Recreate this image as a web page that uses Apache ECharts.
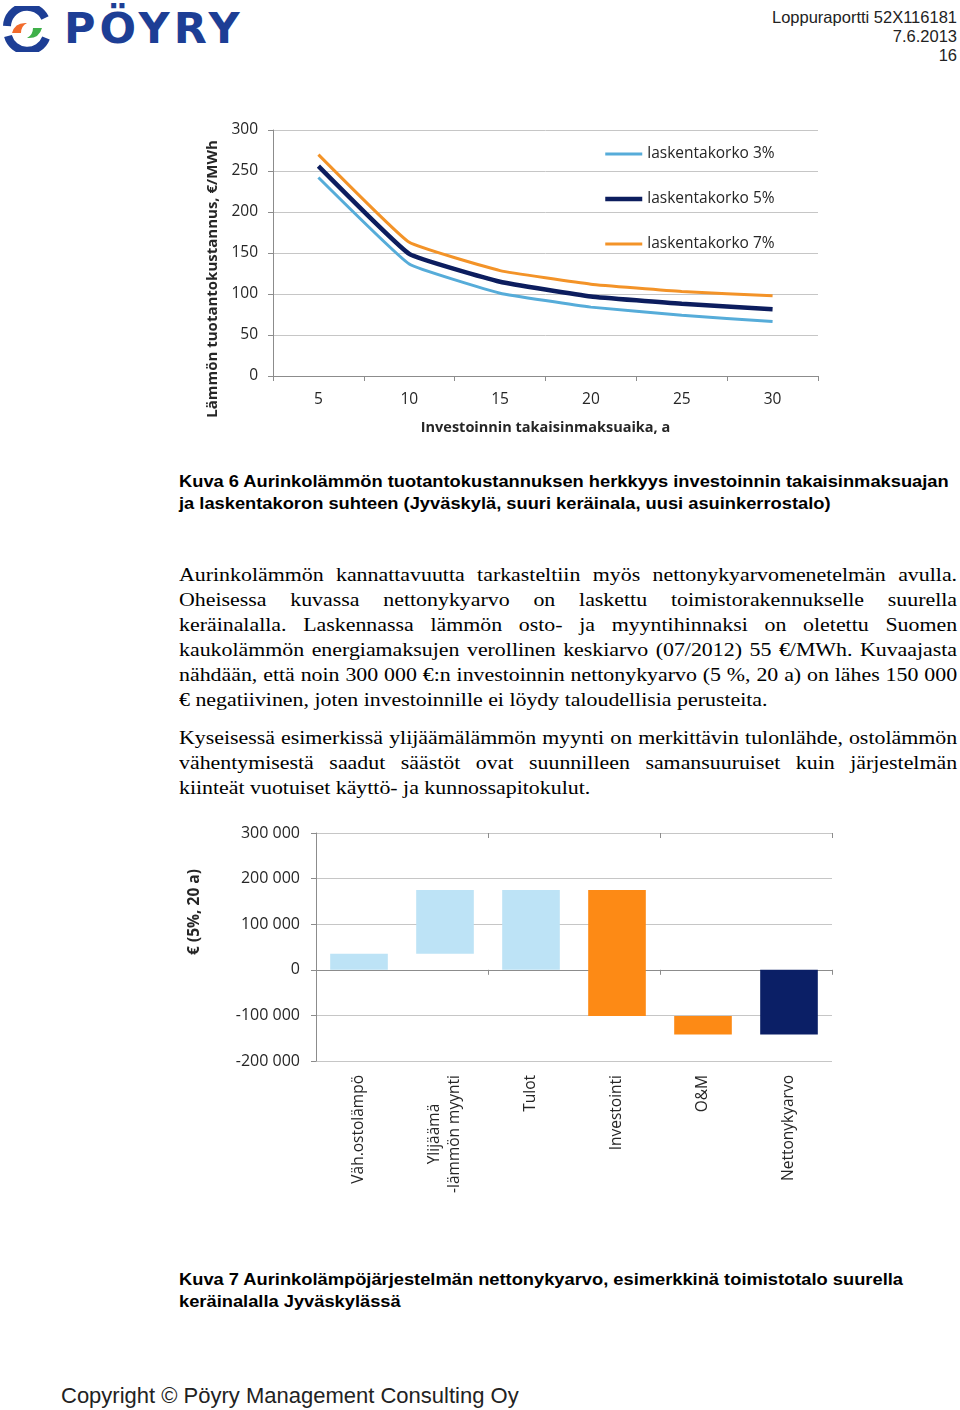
<!DOCTYPE html>
<html>
<head>
<meta charset="utf-8">
<script src="https://cdn.jsdelivr.net/npm/echarts@6/dist/echarts.min.js"></script>
<style>
  html, body { margin: 0; padding: 0; background: #fff; }
  #page { position: relative; width: 960px; height: 1410px; overflow: hidden; background: #fff; }
  .abs { position: absolute; }
  .hdr { right: 3px; top: 8px; text-align: right; font-family: "Liberation Sans", Arial, sans-serif; font-size: 16.5px; line-height: 19px; color: #222; }
  .logo-text { left: 64px; top: 3px; font-family: "DejaVu Sans", sans-serif; font-weight: bold; font-size: 43px; line-height: 50px; color: #1d3e95; letter-spacing: 4px; }
  .cap { left: 179px; font-family: "Liberation Sans", Arial, sans-serif; font-weight: bold; font-size: 16px; line-height: 21.5px; color: #000; white-space: nowrap; transform: scaleX(1.143); transform-origin: 0 0; }
  .body { left: 179px; width: 676px; font-family: "Liberation Serif", "Times New Roman", serif; font-size: 19px; color: #000; transform: scaleX(1.151); transform-origin: 0 0; }
  .ln { height: 25px; line-height: 25px; text-align: justify; text-align-last: justify; }
  .ln.last { text-align: left; text-align-last: left; }
  .foot { left: 61px; top: 1382px; font-family: "Liberation Sans", Arial, sans-serif; font-size: 22px; line-height: 28px; color: #222; }
</style>
</head>
<body>
<div id="page">
  <svg class="abs" style="left:3px;top:6px" width="48" height="46" viewBox="0 0 48 46">
    <path d="M42 12 A20 20 0 0 0 4 20" fill="none" stroke="#1d3e95" stroke-width="8"/>
    <path d="M5 30 A20 20 0 0 0 43 32" fill="none" stroke="#1d3e95" stroke-width="8"/>
    <path d="M9 27 Q12 16 24 17 Q18 20 18 27 Z" fill="#f26b2c"/>
    <path d="M39 22 Q36 33 24 32 Q30 29 30 22 Z" fill="#3fb04a"/>
  </svg>
  <div class="abs logo-text">PÖYRY</div>
  <div class="abs hdr">Loppuraportti 52X116181<br>7.6.2013<br>16</div>

  <div id="chart1" class="abs" style="left:0;top:100px;width:960px;height:360px"></div>

  <div class="abs cap" style="top:471px">Kuva 6 Aurinkolämmön tuotantokustannuksen herkkyys investoinnin takaisinmaksuajan<br>ja laskentakoron suhteen (Jyväskylä, suuri keräinala, uusi asuinkerrostalo)</div>

  <div class="abs body" style="top:562px">
    <div class="ln">Aurinkolämmön kannattavuutta tarkasteltiin myös nettonykyarvomenetelmän avulla.</div>
    <div class="ln">Oheisessa kuvassa nettonykyarvo on laskettu toimistorakennukselle suurella</div>
    <div class="ln">keräinalalla. Laskennassa lämmön osto- ja myyntihinnaksi on oletettu Suomen</div>
    <div class="ln">kaukolämmön energiamaksujen verollinen keskiarvo (07/2012) 55 €/MWh. Kuvaajasta</div>
    <div class="ln">nähdään, että noin 300 000 €:n investoinnin nettonykyarvo (5 %, 20 a) on lähes 150 000</div>
    <div class="ln last">€ negatiivinen, joten investoinnille ei löydy taloudellisia perusteita.</div>
  </div>
  <div class="abs body" style="top:725px">
    <div class="ln">Kyseisessä esimerkissä ylijäämälämmön myynti on merkittävin tulonlähde, ostolämmön</div>
    <div class="ln">vähentymisestä saadut säästöt ovat suunnilleen samansuuruiset kuin järjestelmän</div>
    <div class="ln last">kiinteät vuotuiset käyttö- ja kunnossapitokulut.</div>
  </div>

  <div id="chart2" class="abs" style="left:0;top:810px;width:960px;height:420px"></div>

  <div class="abs cap" style="top:1269px">Kuva 7 Aurinkolämpöjärjestelmän nettonykyarvo, esimerkkinä toimistotalo suurella<br>keräinalalla Jyväskylässä</div>

  <div class="abs foot">Copyright © Pöyry Management Consulting Oy</div>
</div>

<script>
// ---------- Chart 1 data ----------
var paybackYears = ['5', '10', '15', '20', '25', '30'];
var korko3 = [242, 136.5, 101, 84, 74, 66.5];
var korko5 = [256, 149, 115, 97, 88, 81.5];
var korko7 = [270, 163, 128.5, 112, 103, 98];
var seriesNames = ['laskentakorko 3%', 'laskentakorko 5%', 'laskentakorko 7%'];
var chart1YName = 'Lämmön tuotantokustannus, €/MWh';
var chart1XName = 'Investoinnin takaisinmaksuaika, a';

// ---------- Chart 2 data ----------
var npvCategories = ['Väh.ostolämpö', 'Ylijäämä\n-lämmön myynti', 'Tulot', 'Investointi', 'O&M', 'Nettonykyarvo'];
var npvStart = [0, 35000, 0, 175000, -101500, 0];
var npvEnd = [35000, 175000, 175000, -101500, -142000, -142000];
var chart2YName = '€ (5%, 20 a)';

var FONT = '"Open Sans", "Noto Sans", sans-serif';
var TXT = '#262626';
var GRID = '#c6c6c6';
var AXIS = '#8c8c8c';
var lineColors = ['#56acd9', '#0c1d5e', '#f39328'];
var lineWidths = [3, 4.5, 3];

// ---------- Chart 1 ----------
var c1 = echarts.init(document.getElementById('chart1'), null, { renderer: 'canvas' });
c1.setOption({
  animation: false,
  textStyle: { fontFamily: FONT },
  grid: { left: 273, top: 30, width: 545, height: 246 },
  legend: {
    orient: 'vertical', left: 603, top: 46, padding: 0,
    itemWidth: 37, itemHeight: 14, itemGap: 29,
    itemStyle: { opacity: 0 },
    textStyle: { fontFamily: FONT, fontSize: 15.5, color: TXT },
    data: seriesNames.map(function (n, i) {
      return { name: n, lineStyle: { color: lineColors[i], width: lineWidths[i] } };
    })
  },
  xAxis: {
    type: 'category', data: paybackYears, boundaryGap: true,
    axisLine: { lineStyle: { color: AXIS, width: 1 } },
    axisTick: { show: true, length: 5, lineStyle: { color: AXIS } },
    axisLabel: { fontFamily: FONT, fontSize: 15.5, color: TXT, margin: 16 },
    name: chart1XName, nameLocation: 'middle', nameGap: 44,
    nameTextStyle: { fontFamily: FONT, fontSize: 14.5, fontWeight: 'bold', color: TXT }
  },
  yAxis: {
    type: 'value', min: 0, max: 300, interval: 50,
    axisLine: { show: true, lineStyle: { color: AXIS } },
    axisTick: { show: true, length: 5, lineStyle: { color: AXIS } },
    axisLabel: { fontFamily: FONT, fontSize: 15.5, color: TXT, margin: 15 },
    splitLine: { lineStyle: { color: GRID, width: 1 } }
  },
  graphic: [{
    type: 'text', x: 213, y: 179, rotation: Math.PI / 2,
    style: { text: chart1YName, font: 'bold 15px ' + FONT, fill: TXT,
      textAlign: 'center', textVerticalAlign: 'middle', align: 'center', verticalAlign: 'middle' }
  }],
  series: [
    { name: seriesNames[0], type: 'line', data: korko3, symbol: 'none', smooth: 0.1,
      lineStyle: { color: lineColors[0], width: lineWidths[0] }, itemStyle: { color: lineColors[0] } },
    { name: seriesNames[1], type: 'line', data: korko5, symbol: 'none', smooth: 0.1,
      lineStyle: { color: lineColors[1], width: lineWidths[1] }, itemStyle: { color: lineColors[1] } },
    { name: seriesNames[2], type: 'line', data: korko7, symbol: 'none', smooth: 0.1,
      lineStyle: { color: lineColors[2], width: lineWidths[2] }, itemStyle: { color: lineColors[2] } }
  ]
});

// ---------- Chart 2 ----------
var barColors = ['#bde3f6', '#bde3f6', '#bde3f6', '#fd8a15', '#fd8a15', '#0b1f66'];
var npvData = npvCategories.map(function (c, i) { return [i, npvStart[i], npvEnd[i]]; });
function fmtThousands(v) {
  var s = Math.abs(v).toString().replace(/\B(?=(\d{3})+(?!\d))/g, ' ');
  return (v < 0 ? '-' : '') + s;
}
function fmtCat(v) {
  if (v.indexOf('\n') < 0) return v;
  return v.split('\n').map(function (p) { return '{c|' + p + '}'; }).join('\n');
}
var c2 = echarts.init(document.getElementById('chart2'), null, { renderer: 'canvas' });
c2.setOption({
  animation: false,
  textStyle: { fontFamily: FONT },
  grid: { left: 316, top: 23, width: 516, height: 228 },
  xAxis: [
    { // zero line with ticks downward
      type: 'category', data: npvCategories, boundaryGap: true,
      axisLine: { onZero: true, lineStyle: { color: AXIS } },
      axisTick: { show: true, length: 5, lineStyle: { color: AXIS } },
      axisLabel: { show: false }
    },
    { // labels at bottom ("low" position)
      type: 'category', data: npvCategories, position: 'bottom', boundaryGap: true,
      axisLine: { show: false, onZero: false }, axisTick: { show: false },
      axisLabel: { rotate: 90, fontFamily: FONT, fontSize: 15.5, color: TXT, margin: 14, lineHeight: 20,
        formatter: fmtCat,
        rich: { c: { width: 118, align: 'center', fontFamily: FONT, fontSize: 15.5, color: TXT, lineHeight: 20 } } }
    },
    { // upward half of the crossing ticks
      type: 'category', data: npvCategories, boundaryGap: true,
      axisLine: { show: false, onZero: true },
      axisTick: { show: true, inside: true, length: 5, lineStyle: { color: AXIS } },
      axisLabel: { show: false }
    }
  ],
  yAxis: {
    type: 'value', min: -200000, max: 300000, interval: 100000,
    axisLine: { show: true, lineStyle: { color: AXIS } },
    axisTick: { show: true, length: 5, lineStyle: { color: AXIS } },
    axisLabel: { fontFamily: FONT, fontSize: 16, color: TXT, margin: 16, formatter: fmtThousands },
    splitLine: { lineStyle: { color: GRID, width: 1 } }
  },
  graphic: [{
    type: 'text', x: 195, y: 102, rotation: Math.PI / 2,
    style: { text: chart2YName, font: 'bold 15.5px ' + FONT, fill: TXT,
      textAlign: 'center', textVerticalAlign: 'middle', align: 'center', verticalAlign: 'middle' }
  }],
  series: [{
    type: 'custom', xAxisIndex: 0, yAxisIndex: 0,
    data: npvData,
    encode: { x: 0, y: [1, 2] },
    renderItem: function (params, api) {
      var i = api.value(0);
      var p1 = api.coord([i, api.value(1)]);
      var p2 = api.coord([i, api.value(2)]);
      var w = api.size([1, 0])[0] * 0.67;
      return {
        type: 'rect',
        shape: { x: p1[0] - w / 2, y: Math.min(p1[1], p2[1]), width: w, height: Math.abs(p1[1] - p2[1]) },
        style: { fill: barColors[i] }
      };
    }
  }]
});
</script>
</body>
</html>
